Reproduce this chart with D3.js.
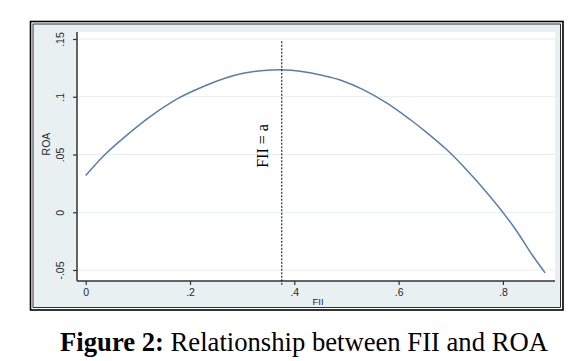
<!DOCTYPE html>
<html>
<head>
<meta charset="utf-8">
<script src="https://cdn.jsdelivr.net/npm/d3@7"></script>
<style>
html,body{margin:0;padding:0;background:#fff;}
svg{display:block;}
</style>
</head>
<body>
<svg id="c" width="583" height="361"></svg>
<script>
// ---- data ----
const fii = [0.0, 0.037, 0.075, 0.123, 0.178, 0.229, 0.267, 0.302, 0.341, 0.372, 0.395, 0.430, 0.469, 0.488, 0.532, 0.577, 0.622, 0.654, 0.692, 0.724, 0.775, 0.820, 0.858, 0.881];
const roa = [0.0318, 0.050, 0.0653, 0.0826, 0.0988, 0.1095, 0.1160, 0.1203, 0.1227, 0.1233, 0.1229, 0.1207, 0.1169, 0.1145, 0.1062, 0.0947, 0.0803, 0.0690, 0.0543, 0.0398, 0.0139, -0.0121, -0.0381, -0.0525];
const xTicks = [0, 0.2, 0.4, 0.6, 0.8];
const xTickLabels = ["0", ".2", ".4", ".6", ".8"];
const yTicks = [-0.05, 0, 0.05, 0.1, 0.15];
const yTickLabels = ["-.05", "0", ".05", ".1", ".15"];
const refX = 0.376;           // FII = a
const refYRange = [0.148, -0.064];
const xTitle = "FII", yTitle = "ROA", refLabel = "FII = a";
const captionBold = "Figure 2:", captionRest = " Relationship between FII and ROA";

const svg = d3.select("#c");
const x = d3.scaleLinear().domain([0, 0.8]).range([85.7, 502.9]);
const y = d3.scaleLinear().domain([-0.05, 0.15]).range([270, 39]);
const plot = {l: 77, r: 555, t: 32, b: 281};
const sans = "'Liberation Sans', Arial, sans-serif";
const serif = "'Liberation Serif', 'Times New Roman', serif";

// frame and graph region
svg.append("rect").attr("x", 30.5).attr("y", 21.5).attr("width", 532.5).attr("height", 288.5)
  .attr("fill", "#fff").attr("stroke", "#000").attr("stroke-width", 1.6);
svg.append("rect").attr("x", 33).attr("y", 24).attr("width", 527.5).attr("height", 283.5)
  .attr("fill", "#e8f0f2").attr("stroke", "#000").attr("stroke-width", 0.8);
svg.append("rect").attr("x", plot.l).attr("y", plot.t).attr("width", plot.r - plot.l).attr("height", plot.b - plot.t)
  .attr("fill", "#fff");

// gridlines
svg.append("g").selectAll("line").data(yTicks).join("line")
  .attr("x1", plot.l).attr("x2", plot.r).attr("y1", d => y(d)).attr("y2", d => y(d))
  .attr("stroke", "#e6eef0").attr("stroke-width", 1);

// y axis
const yAxis = d3.axisLeft(y).tickValues(yTicks).tickSize(4).tickPadding(6)
  .tickFormat((d, i) => yTickLabels[i]);
const gy = svg.append("g").attr("transform", `translate(${plot.l},0)`).call(yAxis);
gy.select(".domain").remove();
gy.append("line").attr("x1", 0).attr("x2", 0).attr("y1", plot.t).attr("y2", plot.b).attr("stroke", "#333").attr("stroke-width", 1.5);
gy.selectAll(".tick line").attr("stroke", "#333").attr("stroke-width", 1.2);
gy.selectAll(".tick text")
  .attr("transform", "rotate(-90)")
  .attr("x", 0).attr("y", -13)
  .attr("text-anchor", "middle")
  .attr("dy", "0")
  .style("font-family", sans).style("font-size", "10.5px").attr("fill", "#2a2a2a");

// x axis
const xAxis = d3.axisBottom(x).tickValues(xTicks).tickSize(4).tickPadding(4)
  .tickFormat((d, i) => xTickLabels[i]);
const gx = svg.append("g").attr("transform", `translate(0,${plot.b})`).call(xAxis);
gx.select(".domain").remove();
gx.append("line").attr("x1", plot.l).attr("x2", plot.r).attr("y1", 0).attr("y2", 0).attr("stroke", "#333").attr("stroke-width", 1.5);
gx.selectAll(".tick line").attr("stroke", "#333").attr("stroke-width", 1.2);
gx.selectAll(".tick text")
  .style("font-family", sans).style("font-size", "10.5px").attr("fill", "#2a2a2a");

// axis titles
svg.append("text").attr("x", (plot.l + plot.r) / 2 + 2).attr("y", 305).attr("text-anchor", "middle")
  .style("font-family", sans).style("font-size", "9.5px").attr("fill", "#2a2a2a")
  .text(xTitle);
svg.append("text").attr("transform", "translate(50,144) rotate(-90)").attr("text-anchor", "middle")
  .style("font-family", sans).style("font-size", "10.5px").attr("fill", "#2a2a2a")
  .text(yTitle);

// curve
const line = d3.line().x((d, i) => x(fii[i])).y(d => y(d)).curve(d3.curveCatmullRom.alpha(0.5));
svg.append("path").datum(roa).attr("d", line).attr("fill", "none")
  .attr("stroke", "#5a7ea8").attr("stroke-width", 1.5);

// reference line
svg.append("line").attr("x1", x(refX)).attr("x2", x(refX))
  .attr("y1", y(refYRange[0])).attr("y2", y(refYRange[1]))
  .attr("stroke", "#000").attr("stroke-width", 1).attr("stroke-dasharray", "2,1.5");
svg.append("text").attr("transform", `translate(${x(refX) - 14},146) rotate(-90)`)
  .attr("text-anchor", "middle")
  .style("font-family", serif).style("font-size", "16px").attr("fill", "#000")
  .text(refLabel);

// caption
const cap = svg.append("text").attr("x", 304).attr("y", 351).attr("text-anchor", "middle")
  .style("font-family", serif).style("font-size", "24px").attr("fill", "#000");
cap.append("tspan").attr("font-weight", "bold").text(captionBold);
cap.append("tspan").text(captionRest);
const w = cap.node().getComputedTextLength();
cap.style("font-size", (24 * 488 / w).toFixed(2) + "px");
</script>
</body>
</html>
